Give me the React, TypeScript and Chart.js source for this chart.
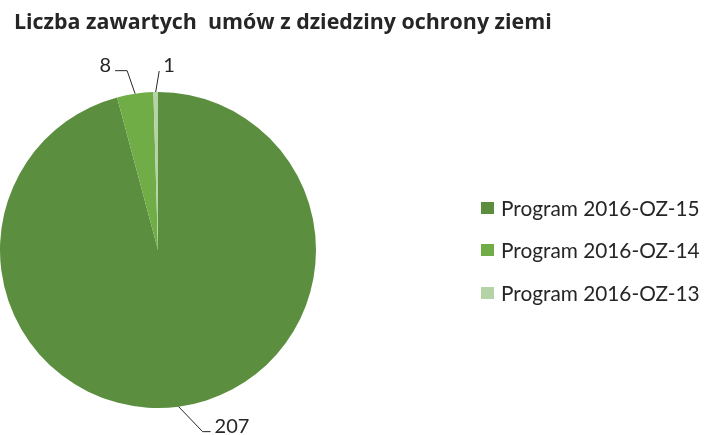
import React, { useEffect, useRef } from "react";
import { Chart, registerables } from "chart.js";

Chart.register(...registerables);

const titleText = "Liczba zawartych  umów z dziedziny ochrony ziemi";
const categories = ["Program 2016-OZ-15", "Program 2016-OZ-14", "Program 2016-OZ-13"];
const values = [207, 8, 1];
const colors = ["#5B8F3F", "#70AD47", "#B4D3A6"];

const TEXT = "#262626";
const FONT = "Lato, 'Open Sans', sans-serif";
const TITLE_FONT = "'Open Sans', Lato, sans-serif";

// leader line geometry per slice (style only)
const leaders = [
  { dx: 24, dy: 25, hx: 8, align: "left" as CanvasTextAlign },
  { dx: -8, dy: -23, hx: -12, align: "right" as CanvasTextAlign },
  { dx: 3.5, dy: -21, hx: 0, align: "left" as CanvasTextAlign },
];

const decorPlugin = {
  id: "decor",
  afterDraw(chart: any) {
    const ctx: CanvasRenderingContext2D = chart.ctx;
    ctx.save();
    // title
    ctx.fillStyle = TEXT;
    ctx.font = `bold 21.4px ${TITLE_FONT}`;
    ctx.textAlign = "left";
    ctx.textBaseline = "alphabetic";
    ctx.fillText(titleText, 14, 29);

    // data labels with leader lines
    const meta = chart.getDatasetMeta(0);
    meta.data.forEach((arc: any, i: number) => {
      const p = arc.getProps(["x", "y", "startAngle", "endAngle", "outerRadius"], true);
      const mid = (p.startAngle + p.endAngle) / 2;
      const ex = p.x + Math.cos(mid) * p.outerRadius;
      const ey = p.y + Math.sin(mid) * p.outerRadius;
      const L = leaders[i];
      const kx = ex + L.dx;
      const ky = ey + L.dy;
      const hx = kx + L.hx;
      ctx.strokeStyle = TEXT;
      ctx.lineWidth = 1;
      ctx.beginPath();
      ctx.moveTo(ex, ey);
      ctx.lineTo(kx, ky);
      ctx.lineTo(hx, ky);
      ctx.stroke();
      ctx.font = `20px ${FONT}`;
      ctx.textAlign = L.align;
      ctx.textBaseline = "alphabetic";
      const tx = L.align === "left" ? hx + 4 : hx - 4;
      ctx.fillText(String(values[i]), tx, ky + 1);
    });

    // legend
    const rowY = [208, 250, 293];
    categories.forEach((c, i) => {
      ctx.fillStyle = colors[i];
      ctx.fillRect(481, rowY[i] - 6, 13, 12);
      ctx.fillStyle = TEXT;
      ctx.font = `20.8px ${FONT}`;
      ctx.textAlign = "left";
      ctx.textBaseline = "middle";
      ctx.fillText(c, 501, rowY[i] + 1);
    });
    ctx.restore();
  },
};

export default function App() {
  const ref = useRef<HTMLCanvasElement>(null);
  useEffect(() => {
    document.body.style.margin = "0";
    const chart = new Chart(ref.current!, {
      type: "pie",
      data: {
        labels: categories,
        datasets: [
          {
            data: values,
            backgroundColor: colors,
            borderWidth: 0,
          },
        ],
      },
      options: {
        responsive: false,
        animation: false,
        layout: { padding: { left: 0, right: 391, top: 92, bottom: 27 } },
        plugins: {
          legend: { display: false },
          title: { display: false },
          tooltip: { enabled: false },
        },
      },
      plugins: [decorPlugin],
    });
    return () => chart.destroy();
  }, []);
  return (
    <div style={{ width: 707, height: 435, background: "#fff" }}>
      <canvas ref={ref} width={707} height={435} />
    </div>
  );
}
